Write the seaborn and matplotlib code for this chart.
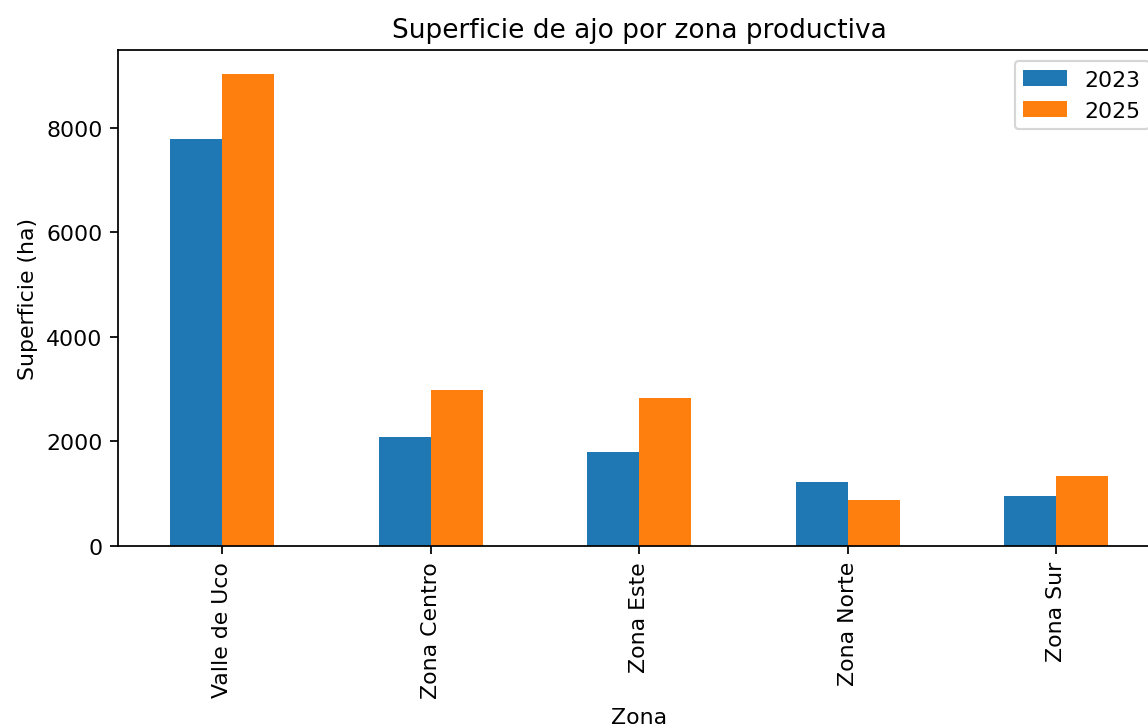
import pandas as pd
import matplotlib
matplotlib.use("Agg")
import matplotlib.pyplot as plt
import seaborn as sns

# --- datos ---
zonas = ["Valle de Uco", "Zona Centro", "Zona Este", "Zona Norte", "Zona Sur"]
sup_2023 = [7780, 2075, 1795, 1215, 955]
sup_2025 = [9040, 2980, 2825, 870, 1330]
anios = ["2023", "2025"]

df = pd.DataFrame({"Zona": zonas, "2023": sup_2023, "2025": sup_2025})
df_long = df.melt(id_vars="Zona", value_vars=anios, var_name="Año", value_name="Superficie")

# --- grafico ---
dpi = 158
fig = plt.figure(figsize=(1148 / dpi, 726 / dpi), dpi=dpi)
ax = fig.add_axes([0.1028, 0.247, 0.9081, 0.6828])

sns.barplot(data=df_long, x="Zona", y="Superficie", hue="Año",
            palette=["#1f77b4", "#ff7f0e"], width=0.5, ax=ax,
            saturation=1, errorbar=None)

ax.set_title("Superficie de ajo por zona productiva", fontsize=12)
ax.set_xlabel("Zona")
ax.set_ylabel("Superficie (ha)")
ax.tick_params(axis="x", rotation=90)
ax.legend(title=None, loc="upper right")

fig.savefig("out.png", dpi=dpi)
